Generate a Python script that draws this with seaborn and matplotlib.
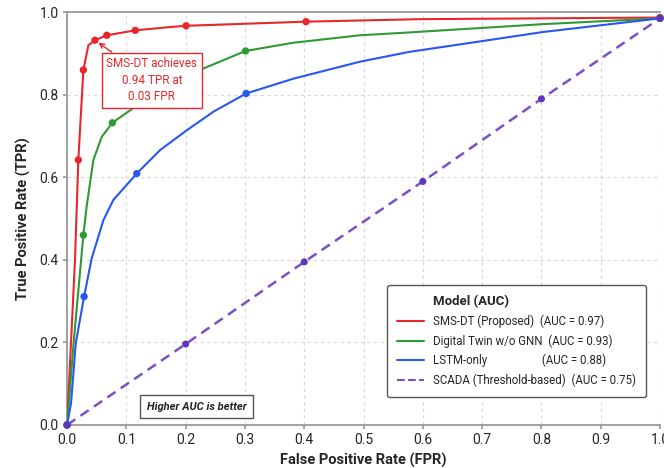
import matplotlib
matplotlib.use("Agg")
import matplotlib.pyplot as plt
import seaborn as sns
import pandas as pd
from matplotlib.lines import Line2D

# ---- data ----
red_fpr = [0.0, 0.0135, 0.019, 0.0275, 0.036, 0.047, 0.067, 0.115, 0.174, 0.2007, 0.403, 0.595, 1.0]
red_tpr = [0.0, 0.404, 0.642, 0.860, 0.920, 0.932, 0.944, 0.956, 0.964, 0.967, 0.977, 0.983, 0.987]
red_mk_fpr = [0.0, 0.019, 0.0275, 0.047, 0.067, 0.115, 0.2007, 0.403, 1.0]
red_mk_tpr = [0.0, 0.642, 0.860, 0.932, 0.944, 0.956, 0.967, 0.977, 0.987]

green_fpr = [0.0, 0.011, 0.0275, 0.033, 0.0444, 0.0585, 0.0764, 0.123, 0.224, 0.301, 0.382, 0.494, 0.578, 0.803, 1.0]
green_tpr = [0.0, 0.198, 0.46, 0.529, 0.642, 0.698, 0.732, 0.779, 0.86, 0.906, 0.926, 0.944, 0.951, 0.971, 0.985]
green_mk_fpr = [0.0, 0.0275, 0.0764, 0.301, 1.0]
green_mk_tpr = [0.0, 0.46, 0.732, 0.906, 0.985]

blue_fpr = [0.0, 0.0067, 0.0147, 0.0287, 0.0416, 0.0613, 0.078, 0.1175, 0.157, 0.202, 0.247, 0.302, 0.382, 0.494, 0.578, 0.691, 0.803, 1.0]
blue_tpr = [0.0, 0.053, 0.198, 0.311, 0.404, 0.496, 0.545, 0.609, 0.666, 0.714, 0.759, 0.803, 0.839, 0.88, 0.904, 0.928, 0.952, 0.985]
blue_mk_fpr = [0.0, 0.0287, 0.1175, 0.302, 1.0]
blue_mk_tpr = [0.0, 0.311, 0.609, 0.803, 0.985]

scada_fpr = [0.0, 0.2, 0.4, 0.6, 0.8, 1.0]
scada_tpr = [0.0, 0.196, 0.395, 0.59, 0.79, 0.985]

model_labels = ["SMS-DT (Proposed)", "Digital Twin w/o GNN", "LSTM-only", "SCADA (Threshold-based)"]
auc_values = [0.97, 0.93, 0.88, 0.75]
x_ticks = [0.0, 0.1, 0.2, 0.3, 0.4, 0.5, 0.6, 0.7, 0.8, 0.9, 1.0]
y_ticks = [0.0, 0.2, 0.4, 0.6, 0.8, 1.0]

# ---- style ----
sns.set_theme(style="whitegrid")
plt.rcParams["font.family"] = ["Roboto", "DejaVu Sans"]

RED = "#e8262b"
GREEN = "#2f9a33"
BLUE = "#2857f2"
PURPLE = "#7a50c6"
PURPLE_MK = "#6236b8"

fig = plt.figure(figsize=(6.64, 4.68), dpi=100)
ax = fig.add_axes([0.101, 0.092, 0.893, 0.882])

curves = [
    (red_fpr, red_tpr, red_mk_fpr, red_mk_tpr, RED),
    (green_fpr, green_tpr, green_mk_fpr, green_mk_tpr, GREEN),
    (blue_fpr, blue_tpr, blue_mk_fpr, blue_mk_tpr, BLUE),
]
for fx, ty, mx, my, col in curves:
    df = pd.DataFrame({"fpr": fx, "tpr": ty})
    sns.lineplot(data=df, x="fpr", y="tpr", ax=ax, color=col, lw=1.5, sort=False,
                 estimator=None, zorder=3)
    dm = pd.DataFrame({"fpr": mx, "tpr": my})
    sns.scatterplot(data=dm, x="fpr", y="tpr", ax=ax, color=col, s=28, edgecolor="none",
                    zorder=4, clip_on=False)

ds = pd.DataFrame({"fpr": scada_fpr, "tpr": scada_tpr})
sns.lineplot(data=ds, x="fpr", y="tpr", ax=ax, color=PURPLE, lw=1.8,
             estimator=None, zorder=2, linestyle=(0, (4, 2.5)))
sns.scatterplot(data=ds, x="fpr", y="tpr", ax=ax, color=PURPLE_MK, s=26, edgecolor="none",
                zorder=4, clip_on=False)

ax.set_xlim(0, 1.0)
ax.set_ylim(0, 1.0)
ax.set_xticks(x_ticks)
ax.set_yticks(y_ticks)
ax.set_xticklabels([f"{v:.1f}" for v in x_ticks], fontsize=10)
ax.set_yticklabels([f"{v:.1f}" for v in y_ticks], fontsize=10)
ax.set_xlabel("False Positive Rate (FPR)", fontsize=10.5, fontweight="bold", labelpad=4)
ax.set_ylabel("True Positive Rate (TPR)", fontsize=10.5, fontweight="bold", labelpad=6)

ax.grid(True, linestyle=(0, (3, 3)), color="#d8d8d8", lw=0.8)
for side in ["left", "bottom", "top"]:
    ax.spines[side].set_visible(True)
    ax.spines[side].set_color("#9a9a9a")
    ax.spines[side].set_linewidth(1.3)
ax.spines["right"].set_visible(False)
ax.tick_params(axis="both", which="major", length=3, color="#9a9a9a", pad=3, bottom=True, left=True)

# annotation
ax.annotate("SMS-DT achieves\n0.94 TPR at\n0.03 FPR",
            xy=(0.047, 0.932), xytext=(0.143, 0.835),
            ha="center", va="center", fontsize=8.5, color=RED, linespacing=1.35,
            bbox=dict(boxstyle="square,pad=0.4", fc="white", ec=RED, lw=1.0),
            arrowprops=dict(arrowstyle="->", color=RED, lw=1.0, shrinkA=0, shrinkB=3),
            zorder=6)

ax.text(0.219, 0.044, "Higher AUC is better", ha="center", va="center", fontsize=8,
        fontstyle="italic", fontweight="bold", color="#222222",
        bbox=dict(boxstyle="square,pad=0.6", fc="white", ec="#555555", lw=1.0), zorder=6)

# legend
cols = [RED, GREEN, BLUE, PURPLE]
styles = ["-", "-", "-", "--"]
handles = [Line2D([0], [0], color=c, lw=1.5, linestyle=s) for c, s in zip(cols, styles)]
pads = ["  ", "  ", "                   ", "  "]
labels = [f"{m}{p}(AUC = {a:.2f})" for m, p, a in zip(model_labels, pads, auc_values)]
leg = ax.legend(handles, labels, title="Model (AUC)", loc="lower right",
                bbox_to_anchor=(0.976, 0.068), borderaxespad=0.0, fontsize=8.3,
                frameon=True, fancybox=True, edgecolor="#555555", framealpha=1.0,
                handlelength=2.3, borderpad=0.85, labelspacing=0.55, alignment="left")
leg.get_title().set_fontweight("bold")
leg.get_title().set_fontsize(9.5)
leg.get_title().set_position((36, 0))
leg.get_frame().set_linewidth(1.0)
leg.set_zorder(7)

fig.savefig("out.png", dpi=100)
